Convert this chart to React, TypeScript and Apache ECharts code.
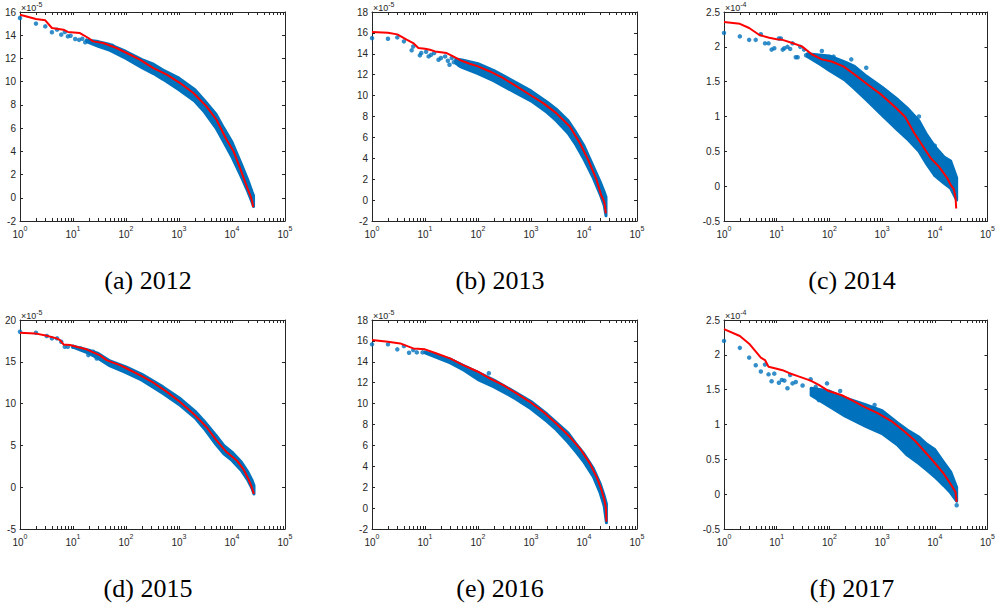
import React, { useEffect, useRef } from "react";
import * as echarts from "echarts";

// ---------- data (y values in units of the axis exponent) ----------
const minorTickValues = [
  2, 3, 4, 5, 6, 7, 8, 9,
  20, 30, 40, 50, 60, 70, 80, 90,
  200, 300, 400, 500, 600, 700, 800, 900,
  2000, 3000, 4000, 5000, 6000, 7000, 8000, 9000,
  20000, 30000, 40000, 50000, 60000, 70000, 80000, 90000,
];

// (a) 2012
const redA = [[1,15.77],[2,15.4],[3,15.28],[4,14.62],[6.6,14.48],[8,14.28],[13.5,14.19],[19.5,13.76],[24,13.47],[37,13.33],[66,12.9],[103,12.47],[183,11.9],[329,11.17],[590,10.6],[1050,9.88],[1870,9.02],[3300,7.87],[5100,6.72],[7900,5.0],[10700,4.0],[14200,2.55],[19000,0.97],[22500,0.11],[24000,-0.32],[25100,-0.81]];
const upperA = [[18,13.6],[30,13.45],[50,13.2],[100,12.6],[200,11.9],[330,11.5],[500,11.0],[1000,10.3],[2000,9.3],[3000,8.4],[5000,7.2],[7000,6.0],[10000,4.8],[15000,2.9],[20000,1.5],[24000,0.5],[25500,0.2]];
const lowerA = [[18,13.45],[30,13.05],[50,12.7],[100,12.0],[200,11.2],[330,10.7],[500,10.2],[1000,9.3],[2000,8.3],[3000,7.4],[5000,6.0],[7000,4.8],[10000,3.5],[15000,1.8],[20000,0.5],[24000,-0.4],[25500,-0.75]];
const dotsA = [[1,15.48],[2,15.0],[3,14.76],[4,14.25],[5,14.48],[6,14.05],[7,14.28],[8,13.9],[9,13.96],[11,13.67],[13,13.6],[15,13.7],[17,13.4],[55,13.1]];

// (b) 2013
const redB = [[1,16.08],[2,16.02],[3,15.86],[4.5,15.35],[6,15.03],[7.5,14.55],[10,14.49],[12.4,14.39],[15.5,14.23],[25.6,14.07],[34,13.75],[49,13.33],[70,13.05],[100,12.8],[168,12.31],[300,11.67],[535,10.88],[950,10.08],[1700,9.28],[3000,8.32],[5400,7.04],[8400,5.44],[12000,3.85],[17300,1.93],[21000,0.49],[24000,-0.15],[25000,-0.63],[25800,-1.27]];
const upperB = [[38,13.5],[50,13.4],[100,13.05],[200,12.4],[500,11.3],[1000,10.45],[2000,9.4],[3000,8.7],[5000,7.6],[7000,6.5],[10000,5.2],[15000,3.2],[20000,1.8],[24000,0.8],[26000,0.3]];
const lowerB = [[38,13.1],[50,12.7],[100,12.1],[200,11.4],[500,10.3],[1000,9.5],[2000,8.4],[3000,7.6],[5000,6.4],[7000,5.3],[10000,3.9],[15000,2.1],[20000,0.6],[24000,-0.5],[26000,-1.5]];
const dotsB = [[1,15.5],[2,15.44],[3,15.57],[4,15.19],[5.6,14.33],[6,14.7],[8,13.85],[8.5,14.07],[10.5,14.2],[11.7,13.75],[13,13.9],[14.9,14.07],[18,13.43],[20,13.6],[24,13.75],[27,13.33],[29,12.95],[32,13.6],[35,13.2],[45,12.9],[80,12.9]];

// (c) 2014
const redC = [[1,2.356],[2,2.33],[3,2.27],[4.7,2.17],[7.2,2.13],[10,2.11],[12.9,2.10],[19.8,2.055],[30,2.007],[47,1.89],[72,1.82],[110,1.79],[184,1.72],[305,1.60],[540,1.455],[980,1.31],[1740,1.14],[2700,1.0],[4100,0.76],[6300,0.545],[8400,0.40],[12000,0.28],[17300,0.114],[20000,0.018],[23000,-0.044],[24800,-0.17],[25500,-0.32]];
const upperC = [[38,1.9],[70,1.88],[100,1.87],[200,1.78],[300,1.72],[500,1.58],[1000,1.42],[2000,1.24],[3000,1.12],[5000,0.94],[7000,0.74],[10000,0.57],[15000,0.42],[20000,0.36],[26000,0.12]];
const lowerC = [[38,1.86],[70,1.74],[100,1.66],[200,1.52],[300,1.4],[500,1.24],[1000,1.02],[2000,0.8],[3000,0.68],[5000,0.5],[7000,0.32],[10000,0.15],[15000,0.04],[20000,-0.03],[26000,-0.2]];
const dotsC = [[1,2.2],[2,2.15],[3,2.10],[4,2.10],[5,2.18],[6,2.05],[7,2.05],[8,1.96],[9,1.98],[11,2.12],[12,2.12],[13,1.96],[14,1.98],[16,2.0],[18,1.97],[20,2.05],[23,1.85],[25,1.85],[28,2.0],[33,1.96],[36,1.88],[72,1.94],[120,1.86],[260,1.82],[500,1.7],[5000,1.0],[10000,0.58]];

// (d) 2015
const redD = [[1,18.48],[1.92,18.4],[3.2,18.12],[4.9,17.8],[5.7,17.6],[6.6,17.08],[8.8,17.0],[12.6,16.73],[18,16.49],[24,16.13],[32,15.8],[43,15.2],[57,14.9],[77,14.6],[103,14.2],[183,13.4],[330,12.5],[590,11.4],[1050,10.2],[1870,8.8],[3300,7.2],[5100,5.6],[7900,4.2],[12300,3.2],[16300,2.2],[20300,1.0],[23000,0.2],[25800,-0.8]];
const upperD = [[10,16.85],[20,16.4],[30,16.0],[50,15.1],[100,14.4],[200,13.5],[500,12.0],[1000,10.7],[2000,9.1],[3000,7.9],[5000,6.2],[7000,5.0],[10000,4.2],[15000,3.0],[20000,1.8],[24000,0.8],[26000,0.2]];
const lowerD = [[10,16.75],[20,16.0],[30,15.4],[50,14.5],[100,13.7],[200,12.8],[500,11.2],[1000,9.9],[2000,8.3],[3000,7.0],[5000,5.1],[7000,4.0],[10000,3.2],[15000,2.0],[20000,0.8],[24000,-0.2],[26000,-0.8]];
const dotsD = [[1,18.6],[2,18.48],[3.2,18.08],[4,17.8],[5,17.8],[6,17.4],[7,16.8],[8,16.8],[10,16.8],[14,16.6],[19.5,15.8],[24,16.2],[28,15.4]];

// (e) 2016
const redE = [[1,16.08],[2,15.92],[3.4,15.76],[6,15.28],[10,15.19],[16.6,14.8],[29.6,14.33],[52.7,13.69],[100,13.05],[168,12.4],[300,11.77],[535,10.97],[950,10.17],[1700,9.21],[3000,8.1],[5400,6.82],[8400,5.7],[13000,4.26],[17300,2.98],[21000,1.87],[24300,0.75],[26000,-0.05],[26500,-1.3]];
const upperE = [[10,14.95],[30,14.25],[50,13.7],[100,13.0],[200,12.25],[500,11.1],[1000,10.2],[2000,9.0],[3000,8.2],[5000,7.2],[7000,6.2],[10000,5.2],[15000,3.8],[20000,2.4],[24000,1.2],[26500,0.4]];
const lowerE = [[10,14.85],[30,13.9],[50,13.3],[100,12.3],[200,11.6],[500,10.5],[1000,9.5],[2000,8.3],[3000,7.5],[5000,6.3],[7000,5.4],[10000,4.4],[15000,3.0],[20000,1.5],[24000,0.2],[26500,-1.4]];
const dotsE = [[1,15.67],[2,15.67],[3,15.19],[4,15.5],[5,14.87],[6,15.12],[7,14.9],[9,14.9],[50,13.4],[160,12.9]];

// (f) 2017
const redF = [[1,2.37],[2,2.27],[3,2.16],[5,1.96],[6,1.925],[7,1.83],[9.6,1.805],[12.9,1.78],[17,1.74],[26,1.69],[44,1.63],[63,1.57],[97,1.48],[172,1.42],[265,1.35],[470,1.25],[840,1.16],[1500,1.05],[2700,0.895],[4100,0.775],[6300,0.62],[9700,0.46],[14900,0.29],[19800,0.15],[24700,0.03],[26000,-0.11]];
const upperF = [[45,1.52],[100,1.48],[200,1.38],[500,1.28],[1000,1.2],[2000,1.02],[3000,0.92],[5000,0.82],[7000,0.72],[10000,0.64],[15000,0.45],[20000,0.32],[26000,0.1]];
const lowerF = [[45,1.42],[100,1.26],[200,1.12],[500,0.97],[1000,0.87],[2000,0.7],[3000,0.56],[5000,0.44],[7000,0.35],[10000,0.25],[15000,0.12],[20000,0.02],[26000,-0.1]];
const dotsF = [[1,2.2],[2,2.1],[3,1.96],[4,1.85],[5,1.76],[6,1.86],[7,1.72],[8,1.62],[9,1.73],[11,1.6],[12.5,1.64],[14,1.63],[16,1.52],[18,1.71],[20,1.59],[23,1.61],[31,1.56],[44,1.65],[55,1.54],[63,1.35],[90,1.59],[160,1.48],[720,1.28],[26000,-0.16]];

const captions = ["(a) 2012", "(b) 2013", "(c) 2014", "(d) 2015", "(e) 2016", "(f) 2017"];
const yMins = [-2, -2, -0.5, -5, -2, -0.5];
const yMaxs = [16, 18, 2.5, 20, 18, 2.5];
const yIntervals = [2, 2, 0.5, 5, 2, 0.5];
const yExponents = ["-5", "-5", "-4", "-5", "-5", "-4"];

const panelData = [
  { red: redA, upper: upperA, lower: lowerA, dots: dotsA },
  { red: redB, upper: upperB, lower: lowerB, dots: dotsB },
  { red: redC, upper: upperC, lower: lowerC, dots: dotsC },
  { red: redD, upper: upperD, lower: lowerD, dots: dotsD },
  { red: redE, upper: upperE, lower: lowerE, dots: dotsE },
  { red: redF, upper: upperF, lower: lowerF, dots: dotsF },
];

// ---------- layout ----------
const GRID_LEFTS = [20, 372, 724];
const GRID_TOPS = [12, 320];
const GRID_W = 265;
const GRID_H = 209;
const CAPTION_X = [148, 500, 852];
const CAPTION_Y = [280, 588];

const BLUE = "#0072BD";
const RED = "#FF0000";
const AX = "#262626";

export default function App() {
  const ref = useRef<HTMLDivElement>(null);
  useEffect(() => {
    if (!ref.current) return;
    const chart = echarts.init(ref.current, undefined, { renderer: "svg" });

    const grid: any[] = [];
    const xAxis: any[] = [];
    const yAxis: any[] = [];
    const series: any[] = [];
    const graphic: any[] = [];

    const supRich = {
      b: { fontSize: 10, fontFamily: "Liberation Sans", color: AX, lineHeight: 14, verticalAlign: "bottom" },
      s: { fontSize: 7, fontFamily: "Liberation Sans", color: AX, lineHeight: 14, verticalAlign: "top" },
    };

    panelData.forEach((p, i) => {
      const row = Math.floor(i / 3);
      const col = i % 3;
      const left = GRID_LEFTS[col];
      const top = GRID_TOPS[row];
      const yMin = yMins[i];
      const yMax = yMaxs[i];
      grid.push({ left, top, width: GRID_W, height: GRID_H, containLabel: false });

      const xBase = {
        gridIndex: i,
        type: "log",
        logBase: 10,
        min: 1,
        max: 100000,
        axisLine: { show: true, onZero: false, lineStyle: { color: AX, width: 1 } },
        axisTick: { show: true, inside: true, length: 3, lineStyle: { color: AX, width: 1 } },
        splitLine: { show: false },
        minorTick: { show: false },
      };
      xAxis.push({
        ...xBase,
        position: "bottom",
        axisLabel: {
          show: true,
          margin: 4,
          formatter: (v: number) => `{b|10}{s|${Math.round(Math.log10(v))}}`,
          rich: supRich,
        },
      });
      xAxis.push({ ...xBase, position: "top", axisLabel: { show: false } });

      const yBase = {
        gridIndex: i,
        type: "value",
        min: yMin,
        max: yMax,
        interval: yIntervals[i],
        axisLine: { show: true, onZero: false, lineStyle: { color: AX, width: 1 } },
        axisTick: { show: true, inside: true, length: 3, lineStyle: { color: AX, width: 1 } },
        splitLine: { show: false },
      };
      yAxis.push({
        ...yBase,
        position: "left",
        axisLabel: { show: true, margin: 4, fontSize: 10, fontFamily: "Liberation Sans", color: AX },
      });
      yAxis.push({ ...yBase, position: "right", axisLabel: { show: false } });

      const xi = 2 * i;
      const yi = 2 * i;

      // dense band of points
      series.push({
        type: "custom",
        xAxisIndex: xi,
        yAxisIndex: yi,
        silent: true,
        z: 2,
        data: [[p.upper[0][0], p.upper[0][1]]],
        renderItem: (_params: any, api: any) => {
          const pts = p.upper
            .map((d) => api.coord(d))
            .concat(p.lower.slice().reverse().map((d) => api.coord(d)));
          return {
            type: "polygon",
            shape: { points: pts },
            style: { fill: BLUE, stroke: BLUE, lineWidth: 3, lineJoin: "round" },
          };
        },
      });

      // sparse points
      series.push({
        type: "scatter",
        xAxisIndex: xi,
        yAxisIndex: yi,
        data: p.dots,
        symbol: "circle",
        symbolSize: 4.5,
        itemStyle: { color: BLUE },
        silent: true,
        z: 3,
      });

      // red fitted line
      series.push({
        type: "line",
        xAxisIndex: xi,
        yAxisIndex: yi,
        data: p.red,
        showSymbol: false,
        symbol: "none",
        lineStyle: { color: RED, width: 2 },
        silent: true,
        z: 5,
      });

      // minor ticks (bottom and top)
      series.push({
        type: "custom",
        xAxisIndex: xi,
        yAxisIndex: yi,
        silent: true,
        z: 10,
        clip: false,
        data: minorTickValues.map((v) => [v, yMin]),
        renderItem: (_params: any, api: any) => {
          const v = api.value(0);
          const b = api.coord([v, yMin]);
          const t = api.coord([v, yMax]);
          const x = Math.round(b[0]) + 0.5;
          return {
            type: "group",
            children: [
              { type: "line", shape: { x1: x, y1: b[1], x2: x, y2: b[1] - 3 }, style: { stroke: AX, lineWidth: 1 } },
              { type: "line", shape: { x1: x, y1: t[1], x2: x, y2: t[1] + 3 }, style: { stroke: AX, lineWidth: 1 } },
            ],
          };
        },
      });

      // exponent label
      graphic.push({
        type: "text",
        left: left + 1,
        top: top - 11,
        silent: true,
        style: {
          text: `{a|×10}{s|${yExponents[i]}}`,
          rich: {
            a: { fontSize: 9, fontFamily: "Liberation Sans", fill: AX, lineHeight: 11, verticalAlign: "bottom" },
            s: { fontSize: 7, fontFamily: "Liberation Sans", fill: AX, lineHeight: 11, verticalAlign: "top" },
          },
        },
      });

      // caption
      graphic.push({
        type: "text",
        x: CAPTION_X[col],
        y: CAPTION_Y[row],
        silent: true,
        style: {
          text: captions[i],
          font: '26px "Liberation Serif"',
          fill: "#000000",
          textAlign: "center",
          textVerticalAlign: "middle",
        },
      });
    });

    chart.setOption({
      animation: false,
      backgroundColor: "#ffffff",
      grid,
      xAxis,
      yAxis,
      series,
      graphic,
    });
    return () => chart.dispose();
  }, []);

  return (
    <div
      ref={ref}
      style={{ position: "fixed", left: 0, top: 0, width: 998, height: 609, background: "#fff" }}
    />
  );
}
